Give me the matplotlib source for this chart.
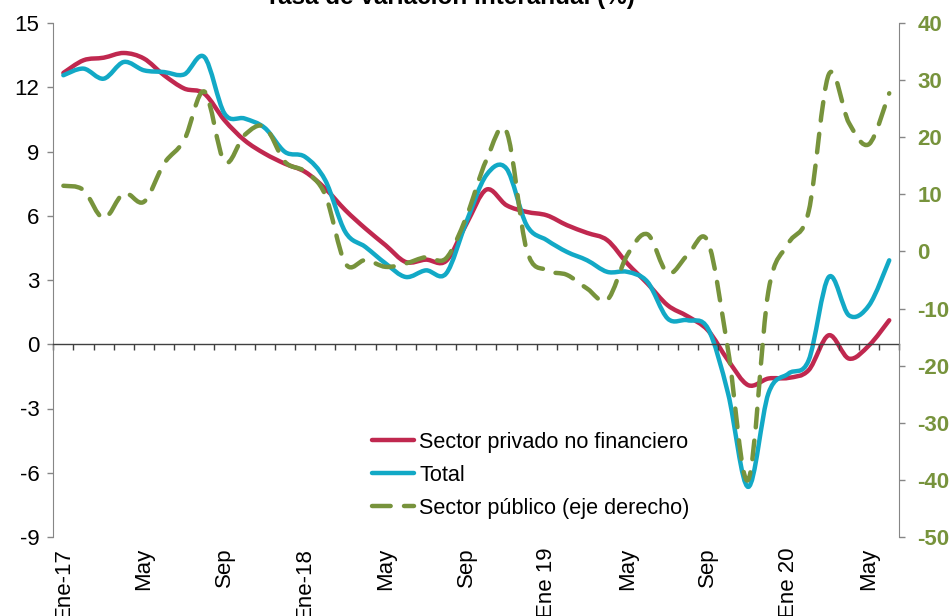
import matplotlib
matplotlib.use("Agg")
import matplotlib.pyplot as plt
from matplotlib.path import Path
from matplotlib.patches import PathPatch
from matplotlib.lines import Line2D
import matplotlib.transforms as mtransforms

plt.rcParams["font.family"] = ["Liberation Sans", "DejaVu Sans"]
plt.rcParams["axes.unicode_minus"] = False

# ---------------- data ----------------
title = "Tasa de variación interanual (%)"
tick_labels = ["Ene-17", "May", "Sep", "Ene-18", "May", "Sep",
               "Ene 19", "May", "Sep", "Ene 20", "May"]
tick_label_months = [0, 4, 8, 12, 16, 20, 24, 28, 32, 36, 40]
n_months = 42  # Ene-2017 .. Jun-2020

privado = [12.67, 13.26, 13.38, 13.60, 13.34, 12.56, 11.94, 11.70, 10.46, 9.52,
           8.90, 8.43, 8.05, 7.27, 6.26, 5.40, 4.62, 3.84, 3.95, 3.89,
           5.60, 7.22, 6.49, 6.18, 6.02, 5.56, 5.20, 4.86, 3.77, 2.83,
           1.82, 1.30, 0.65, -0.75, -1.91, -1.60, -1.57, -1.21, 0.42, -0.67,
           -0.05, 1.12]
total = [12.56, 12.87, 12.40, 13.18, 12.79, 12.71, 12.60, 13.41, 10.77, 10.54,
         10.10, 8.98, 8.75, 7.66, 5.24, 4.54, 3.77, 3.14, 3.45, 3.30,
         5.70, 7.90, 8.20, 5.56, 4.86, 4.31, 3.92, 3.38, 3.38, 2.91,
         1.20, 1.12, 0.73, -2.30, -6.66, -2.30, -1.37, -0.75, 3.14, 1.35,
         1.82, 3.92]
publico = [11.5, 10.75, 5.8, 10.2, 8.7, 15.4, 19.5, 28.0, 15.7, 20.4,
           21.8, 15.7, 14.0, 9.9, -2.1, -1.5, -2.7, -2.1, -1.0, -1.2,
           6.0, 16.0, 21.0, 0.3, -3.3, -4.1, -6.5, -8.5, -0.6, 3.0,
           -3.8, -0.6, 1.7, -17.3, -40.0, -7.0, 1.4, 7.0, 31.0, 22.5,
           18.8, 27.7]

series_names = ["Sector privado no financiero", "Total", "Sector público (eje derecho)"]
colors = ["#C0284F", "#12A9C6", "#77933C"]

left_ticks = list(range(-9, 16, 3))
right_ticks = list(range(-50, 41, 10))


def smooth_path(xs, ys):
    """Excel-like smoothed line as cubic Bezier path through the data points."""
    n = len(xs)
    verts = [(xs[0], ys[0])]
    codes = [Path.MOVETO]
    for i in range(n - 1):
        x0, y0 = (xs[i - 1], ys[i - 1]) if i > 0 else (xs[i], ys[i])
        x1, y1 = xs[i], ys[i]
        x2, y2 = xs[i + 1], ys[i + 1]
        x3, y3 = (xs[i + 2], ys[i + 2]) if i + 2 < n else (x2, y2)
        verts.append((x1 + (x2 - x0) / 6.0, y1 + (y2 - y0) / 6.0))
        verts.append((x2 - (x3 - x1) / 6.0, y2 - (y3 - y1) / 6.0))
        verts.append((x2, y2))
        codes += [Path.CURVE4] * 3
    return Path(verts, codes)


W, H = 953, 616
fig = plt.figure(figsize=(W / 100, H / 100), dpi=100)
ax = fig.add_axes([53.3 / W, 1 - 537 / H, (899.3 - 53.3) / W, (537 - 23) / H])
ax2 = ax.twinx()

x = list(range(n_months))
ax.set_xlim(-0.5, n_months - 0.5)
ax.set_ylim(-9, 15)
ax2.set_ylim(-50, 40)

lw = 3.2
for vals, col in [(privado, colors[0]), (total, colors[1])]:
    p = PathPatch(smooth_path(x, vals), fill=False, edgecolor=col, lw=lw,
                  capstyle="round", joinstyle="round")
    ax.add_patch(p)

pg = PathPatch(smooth_path(x, publico), fill=False, edgecolor=colors[2], lw=lw,
               linestyle=(0, (4.2, 3.0)), capstyle="round", joinstyle="round")
ax2.add_patch(pg)

spine_col = "#868686"
# left axis
ax.spines["top"].set_visible(False)
ax.spines["right"].set_visible(False)
ax.spines["left"].set_color(spine_col)
ax.spines["bottom"].set_position(("data", 0))
ax.spines["bottom"].set_color("#404040")
ax.spines["bottom"].set_linewidth(1.0)
ax.set_yticks(left_ticks)
ax.set_yticklabels([str(v) for v in left_ticks])
ax.tick_params(axis="y", direction="out", length=4, width=1, color=spine_col,
               labelsize=16, pad=6, labelcolor="black")
ax.set_xticks([i - 0.5 for i in range(n_months + 1)])
ax.set_xticklabels([])
ax.tick_params(axis="x", direction="out", length=4.5, width=1, color="#404040")

# right axis
for s in ["top", "left", "bottom"]:
    ax2.spines[s].set_visible(False)
ax2.spines["right"].set_color(spine_col)
ax2.set_yticks(right_ticks)
ax2.set_yticklabels([str(v) for v in right_ticks], fontweight="bold")
ax2.tick_params(axis="y", direction="out", length=4, width=1, color=spine_col,
                labelsize=16, pad=9, labelcolor=colors[2])

# category labels at the bottom (rotated, partly cut by the image edge as in the reference)
trans = mtransforms.blended_transform_factory(ax.transData, ax.transAxes)
for m, lab in zip(tick_label_months, tick_labels):
    ax.text(m, -0.021, lab, transform=trans, rotation=90, ha="center", va="top",
            fontsize=16, color="black")

# title (partly cut at the top as in the reference)
fig.text(450 / W, 1 - 4 / H, title, ha="center", va="baseline",
         fontsize=17.5, fontweight="bold")

handles = [Line2D([], [], color=colors[0], lw=lw, solid_capstyle="round"),
           Line2D([], [], color=colors[1], lw=lw, solid_capstyle="round"),
           Line2D([], [], color=colors[2], lw=lw, linestyle=(0, (4.2, 3.0)),
                  dash_capstyle="round")]
leg = ax2.legend(handles, series_names, loc="upper left",
                 bbox_to_anchor=(372 / W, 1 - 432 / H),
                 bbox_transform=fig.transFigure, frameon=False, fontsize=15.6,
                 handlelength=1.95, handletextpad=0.22, labelspacing=0.55,
                 borderpad=0, borderaxespad=0)

fig.savefig("out.png", dpi=100)
